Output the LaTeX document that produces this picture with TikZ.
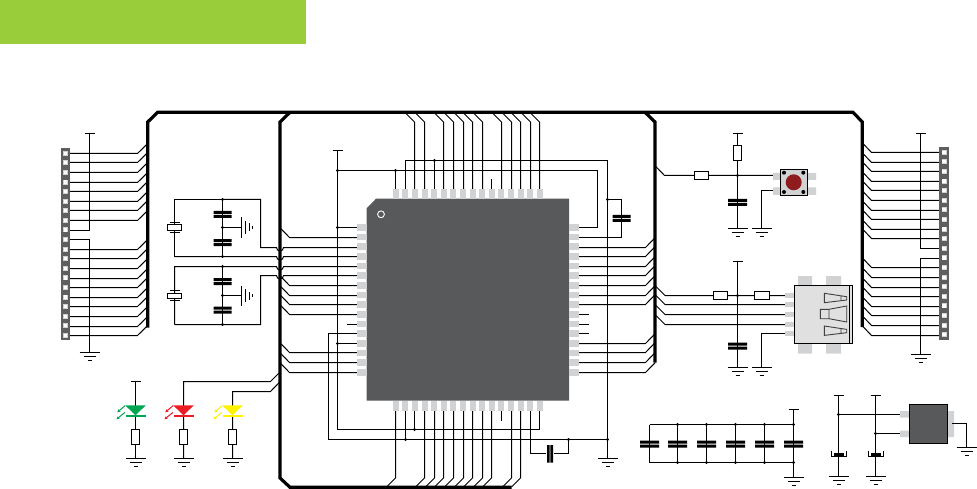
\documentclass[tikz,border=0pt]{standalone}
\usetikzlibrary{arrows.meta}
\definecolor{icgrey}{HTML}{58595B}
\definecolor{pingrey}{HTML}{D1D2D4}
\definecolor{hdrgrey}{HTML}{5E5F61}
\definecolor{bargreen}{HTML}{9ACD3A}
\definecolor{ledgreen}{HTML}{00A651}
\definecolor{ledred}{HTML}{ED1C24}
\definecolor{ledyellow}{HTML}{FFF200}
\definecolor{btnred}{HTML}{8E1B1E}
\tikzset{
  wire/.style={draw=black,line width=1pt,line cap=butt,line join=miter},
  bus/.style={draw=black,line width=3.2pt,line join=miter},
  resbox/.style={draw=black,line width=1pt,fill=white},
  pinpad/.style={fill=pingrey},
  icbody/.style={fill=icgrey},
}
\newcommand{\gndh}[2]{\draw[wire] (#1-10,#2)--(#1+10,#2) (#1-6,#2+4)--(#1+6,#2+4) (#1-2,#2+8)--(#1+2,#2+8);}
\newcommand{\tbar}[2]{\draw[wire] (#1-5,#2)--(#1+5,#2);}
\newcommand{\jn}[2]{\fill (#1,#2) circle (1.7);}
\newcommand{\hcap}[3]{\fill (#1-#3/2,#2-3.5) rectangle (#1+#3/2,#2-0.5) (#1-#3/2,#2+0.5) rectangle (#1+#3/2,#2+3.5);}
\newcommand{\resv}[2]{\draw[resbox] (#1-4,#2-7.5) rectangle (#1+4,#2+7.5);}
\newcommand{\resh}[3]{\draw[resbox] (#1-#3,#2-4) rectangle (#1+#3,#2+4);}
\newcommand{\hdrcell}[2]{%
  \fill[hdrgrey] (#1-4.6,#2-4.8) rectangle (#1+4.6,#2+4.8);
  \fill[pingrey] (#1-2.5,#2-2.5) rectangle (#1+2.5,#2+2.5);
  \fill[white] (#1-1.6,#2-1.6) rectangle (#1+1.6,#2+1.6);}
\newcommand{\ledsym}[2]{%
  \fill[#2] (#1-10.3,405.3) -- (#1+10.3,405.3) -- (#1,415.3) -- cycle;
  \fill[#2] (#1-10,415.2) rectangle (#1+10,417);
  \draw[#2,line width=1pt,-{Stealth[length=3.2pt,width=3.2pt]}] (#1-10.5,405.7) -- (#1-18.2,412.3);
  \draw[#2,line width=1pt,-{Stealth[length=3.2pt,width=3.2pt]}] (#1-10.5,412.3) -- (#1-19,419.3);}
\newcommand{\xtal}[2]{%
  \draw[resbox] (#1-7,#2-2.5) rectangle (#1+7,#2+3);
  \draw[wire] (#1-5,#2-5)--(#1+5,#2-5) (#1-5,#2+5)--(#1+5,#2+5);}
\newcommand{\gndv}[2]{\draw[wire] (#1,#2-10)--(#1,#2+10) (#1+4,#2-6.5)--(#1+4,#2+6.5) (#1+8,#2-4)--(#1+8,#2+4) (#1+11,#2-1.5)--(#1+11,#2+1.5);}
\newcommand{\polcap}[2]{%
  \fill (#1-5,#2-2) rectangle (#1+5,#2+2);
  \draw[wire] (#1-7.3,#2-4)--(#1-7.3,#2+2)--(#1+8,#2+2)--(#1+8,#2-4);}
\begin{document}
\begin{tikzpicture}[x=1pt,y=-1pt]
\useasboundingbox (0,0) rectangle (977,489);
\fill[bargreen] (0,0) rectangle (306,44);

% ---- left header wires
\foreach \y in {153.5,162.5,172.5,182.5,191.5,201.5,210.5,220.5,249.5,258.5,268.5,278.5,287.5,297.5,306.5,316.5,326.5,335.5}
  {\draw[wire] (69,\y)--(137.5,\y)--(147.7,\y-10);}
\draw[wire] (69,230.5)--(89.5,230.5)--(89.5,133.5);
\tbar{89.5}{133.5}
\draw[wire] (69,239.5)--(89.5,239.5)--(89.5,352.5);
\gndh{89.5}{352.5}
\foreach \i in {0,...,19}{\pgfmathsetmacro{\yy}{153.3+9.585*\i}\hdrcell{65.4}{\yy}}

% ---- right header wires
\foreach \y in {152.5,162.5,171.5,181.5,190.5,200.5,210.5,219.5,229.5,238.5,267.5,277.5,287.5,296.5,306.5,315.5,325.5,335.5}
  {\draw[wire] (940,\y)--(871.5,\y)--(862.3,\y-9.7);}
\draw[wire] (940,248.5)--(920.5,248.5)--(920.5,133.5);
\tbar{920.5}{133.5}
\draw[wire] (940,258.5)--(920.5,258.5)--(920.5,354.5);
\gndh{920.5}{354.5}
\foreach \i in {0,...,19}{\pgfmathsetmacro{\yy}{152.3+9.6*\i}\hdrcell{944}{\yy}}

% ---- crystal networks
\draw[wire] (222.5,199.5)--(174.5,199.5)--(174.5,256.5);
\draw[wire] (222.5,199.5)--(260.5,199.5)--(260.5,247.5)--(276.5,247.5) arc (180:0:3.5)--(357,247.5);
\draw[wire] (174.5,256.5)--(276.5,256.5) arc (180:0:3.5)--(357,256.5);
\draw[wire] (222.5,199.5)--(222.5,256.5);
\draw[wire] (222.5,227.5)--(241.5,227.5);
\gndv{241.5}{227.5}
\xtal{174.5}{227.5}
\hcap{222.5}{214.5}{18}
\hcap{222.5}{242.5}{18}
\jn{222.5}{199.5}\jn{222.5}{227.5}\jn{222.5}{256.5}
\draw[wire] (174.5,324.5)--(174.5,266.5)--(276.5,266.5) arc (180:0:3.5)--(357,266.5);
\draw[wire] (174.5,324.5)--(260.5,324.5)--(260.5,275.5)--(276.5,275.5) arc (180:0:3.5)--(357,275.5);
\draw[wire] (222.5,266.5)--(222.5,324.5);
\draw[wire] (222.5,295.5)--(241.5,295.5);
\gndv{241.5}{295.5}
\xtal{174.5}{295.5}
\hcap{222.5}{281.5}{18}
\hcap{222.5}{310}{18}
\jn{222.5}{266.5}\jn{222.5}{295.5}\jn{222.5}{324.5}

% ---- LEDs
\draw[wire] (135.5,381.5)--(135.5,458.5);
\tbar{135.5}{381.5}
\draw[wire] (183.5,458.5)--(183.5,381.5)--(270.5,381.5)--(280,372);
\draw[wire] (232.5,458.5)--(232.5,391.5)--(270.5,391.5)--(280,381.7);
\ledsym{135.5}{ledgreen}\ledsym{183.5}{ledred}\ledsym{232.5}{ledyellow}
\resv{135.5}{436.8}\resv{183.5}{436.8}\resv{232.5}{436.8}
\gndh{135.5}{458.5}\gndh{183.5}{458.5}\gndh{232.5}{458.5}

% ---- MCU left side wires
\foreach \y in {237.5,285.5,295.5,304.5,314.5,352.5,362.5,372.5}
  {\draw[wire] (357,\y)--(289.5,\y)--(280,\y-9.7);}
\draw[wire] (337.5,150.5)--(337.5,429.5)--(539.5,429.5)--(539.5,411);
\tbar{337.5}{150.5}
\draw[wire] (337.5,170.5)--(597.5,170.5)--(597.5,227.5)--(579,227.5);
\draw[wire] (337.5,227.5)--(357,227.5);
\draw[wire] (337.5,343.5)--(357,343.5);
\draw[wire] (347,324.5)--(357,324.5);
\draw[wire] (357,333.5)--(328.5,333.5)--(328.5,439.5)--(607.5,439.5);
\jn{337.5}{170.5}\jn{337.5}{227.5}\jn{337.5}{343.5}

% ---- MCU top wires
\draw[wire] (395.5,189)--(395.5,170.5);\jn{395.5}{170.5}
\draw[wire] (405.5,189)--(405.5,160.5)--(607.5,160.5)--(607.5,458.5);
\draw[wire] (434.5,189)--(434.5,160.5);\jn{434.5}{160.5}
\draw[wire] (491.5,189)--(491.5,179);
\foreach \x in {414.5,424.5,443.5,453.5,463.5,472.5,482.5,501.5,511.5,520.5,530.5,539.5}
  {\draw[wire] (\x,189)--(\x,122)--(\x-9,113);}
\gndh{607.5}{458.5}
\jn{607.5}{199.5}\jn{607.5}{439.5}
\draw[wire] (607.5,199.5)--(621.5,199.5)--(621.5,237.5)--(579,237.5);
\hcap{621.5}{218.5}{18}

% ---- MCU right wires
\foreach \y in {247.5,256.5,266.5,275.5,285.5,295.5,304.5,343.5,352.5,362.5,372.5}
  {\draw[wire] (579,\y)--(645.5,\y)--(655,\y-9.7);}
\foreach \y in {314.5,324.5,333.5}
  {\draw[wire] (579,\y)--(588.5,\y);}

% ---- MCU bottom wires
\foreach \x in {395.5,424.5,434.5,443.5,453.5,463.5,472.5,482.5,491.5,511.5,520.5}
  {\draw[wire] (\x,411)--(\x,478)--(\x-9,487);}
\draw[wire] (405.5,411)--(405.5,439.5);\jn{405.5}{439.5}
\draw[wire] (414.5,411)--(414.5,429.5);\jn{414.5}{429.5}
\draw[wire] (501.5,411)--(501.5,420.5);
\draw[wire] (530.5,411)--(530.5,453.5)--(568.5,453.5)--(568.5,439.5);
\jn{568.5}{439.5}
\fill[white] (546,444) rectangle (554,464);
\fill (547,445) rectangle (549.7,462.7) (550.3,445) rectangle (553,462.7);

% ---- bus outlines
\draw[bus] (147.7,327.7)--(147.7,122)--(157.7,112.3)--(853,112.3)--(862.3,122)--(862.3,327);
\draw[bus] (511.6,487.3)--(290,487.3)--(280,478)--(280,122)--(290,112.3);
\draw[bus] (645,112.3)--(655,122)--(655,362.7);

% ---- MCU body
\fill[icbody] (366.7,208.3)--(376,198.7)--(569,198.7)--(569,400.7)--(366.7,400.7)--cycle;
\draw[white,line width=0.9pt] (381,214.3) circle (3.4);
\foreach \i in {0,...,15}{
  \pgfmathsetmacro{\yy}{227.3+9.67*\i}
  \pgfmathsetmacro{\xx}{395.7+9.6*\i}
  \fill[pinpad] (357,\yy-3.3) rectangle (367.2,\yy+3.3);
  \fill[pinpad] (568.7,\yy-3.3) rectangle (579,\yy+3.3);
  \fill[pinpad] (\xx-3,189) rectangle (\xx+3,198.9);
  \fill[pinpad] (\xx-3,400.8) rectangle (\xx+3,411);
}

% ---- reset button
\draw[wire] (656,166.7)--(664.5,175.5)--(773.5,175.5);
\draw[wire] (737.5,133.5)--(737.5,228.5);
\tbar{737.5}{133.5}
\resh{701.5}{175.5}{7.2}
\resv{737.5}{153.5}
\jn{737.5}{175.5}
\hcap{737.5}{202.5}{19}
\gndh{737.5}{228.5}
\draw[wire] (761.5,228.5)--(761.5,190.5)--(773.5,190.5);
\gndh{761.5}{228.5}
\fill[pinpad] (773,173) rectangle (781,180) (773,187.3) rectangle (781,195) (807,173) rectangle (816,180) (807,187.3) rectangle (816,195);
\draw[wire,fill=pingrey] (780.5,169.5) rectangle (807.5,195.5);
\fill[btnred] (793.7,182.3) circle (8);
\fill (784,172.7) circle (2) (803.3,172.7) circle (2) (784,192) circle (2) (803.3,192) circle (2);

% ---- USB
\foreach \y in {295.5,304.5,314.5,324.5}{\draw[wire] (656,\y-9)--(665,\y)--(786,\y);}
\draw[wire] (737.5,261.5)--(737.5,367.5);
\tbar{737.5}{261.5}
\resh{720.5}{295.5}{7.2}
\resh{762}{295.5}{7.7}
\jn{737.5}{295.5}
\hcap{737.5}{346}{19}
\gndh{737.5}{367.5}
\draw[wire] (761.5,367.5)--(761.5,333.5)--(786,333.5);
\gndh{761.5}{367.5}
\fill[pinpad] (798,276) rectangle (812,286) (826,276) rectangle (841,286) (798,343) rectangle (812,353.7) (826,343) rectangle (841,353.7);
\foreach \y in {295.5,304.5,314.5,324.5,333.5}{\fill[pinpad] (785,\y-2.7) rectangle (794.3,\y+2.7);}
\draw[wire,fill=black!12] (794.5,285.5) rectangle (852.5,343.5);
\draw[wire] (849.5,285.5)--(849.5,343.5);
\draw[draw=black!75,line width=0.9pt] (824.3,293.3)--(846.7,296.7)--(846.7,300)--(824.3,302.7)--cycle (841,296)--(841,300.6);
\draw[draw=black!75,line width=0.9pt] (824.3,326)--(846.7,329.4)--(846.7,332.7)--(824.3,335.4)--cycle (841,328.7)--(841,333.3);
\draw[draw=black!75,line width=0.9pt] (829,309.3)--(820.3,309.3)--(820.3,318.7)--(829,318.7)--(846.7,322)--(846.7,306)--cycle (829,309.3)--(829,318.7);

% ---- decoupling caps
\draw[wire] (649.5,424.5)--(793.5,424.5) (649.5,462.5)--(793.5,462.5);
\foreach \x in {649.5,677.5,706.5,735.5,764.5,793.5}{
  \draw[wire] (\x,424.5)--(\x,462.5);
  \hcap{\x}{444}{19}
}
\foreach \x in {677.5,706.5,735.5,764.5,793.5}{\jn{\x}{424.5}\jn{\x}{462.5}}
\draw[wire] (793.5,409.5)--(793.5,477.5);
\tbar{793.5}{409.5}
\gndh{793.5}{477.5}

% ---- regulator
\draw[wire] (838.5,395.5)--(838.5,476.5);
\draw[wire] (875.5,395.5)--(875.5,476.5);
\tbar{838.5}{395.5}\tbar{875.5}{395.5}
\draw[wire] (838.5,414.5)--(900,414.5);
\draw[wire] (875.5,433.5)--(900,433.5);
\jn{838.5}{414.5}\jn{875.5}{433.5}
\polcap{838.5}{454.7}\polcap{875.5}{454.7}
\gndh{838.5}{476.5}\gndh{875.5}{476.5}
\fill[pinpad] (900,411) rectangle (909.3,417.7) (900,430.7) rectangle (909.3,437) (947.7,411) rectangle (954,437);
\draw[wire,fill=icgrey] (909.5,404.5) rectangle (947.5,443.5);
\draw[wire] (952,423.5)--(966.5,423.5)--(966.5,447.5);
\gndh{966.5}{447.5}
\end{tikzpicture}
\end{document}
